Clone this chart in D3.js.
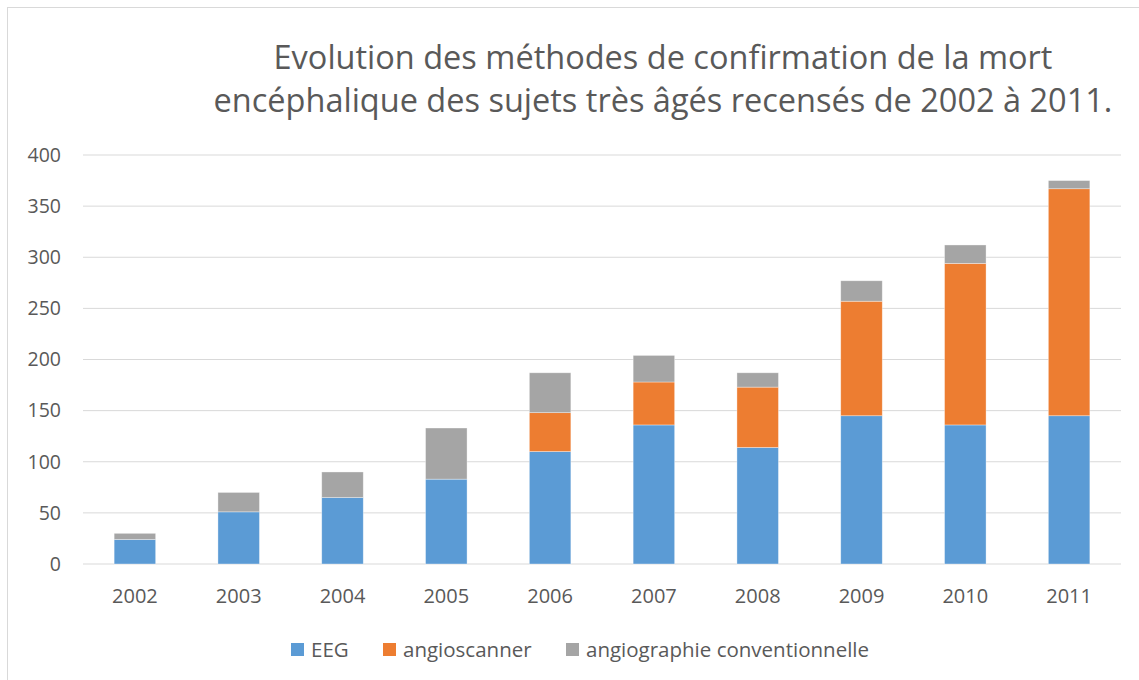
<!DOCTYPE html>
<html>
<head>
<meta charset="utf-8">
<script src="https://cdn.jsdelivr.net/npm/d3@7"></script>
<style>
  body { margin: 0; background: #fff; }
  text { font-family: "Open Sans", sans-serif; fill: #595959; }
</style>
</head>
<body>
<div id="chart"></div>
<script>
const years = ["2002", "2003", "2004", "2005", "2006", "2007", "2008", "2009", "2010", "2011"];
const eeg = [24, 51, 65, 83, 110, 136, 114, 145, 136, 145];
const angioscanner = [0, 0, 0, 0, 38, 42, 59, 112, 158, 222];
const angiographie = [6, 19, 25, 50, 39, 26, 14, 20, 18, 8];
const yTicks = [0, 50, 100, 150, 200, 250, 300, 350, 400];
const seriesNames = ["EEG", "angioscanner", "angiographie conventionnelle"];
const seriesColors = ["#5B9BD5", "#ED7D31", "#A5A5A5"];

const W = 1139, H = 680;
const margin = { top: 155, right: 18, bottom: 116, left: 83 };
const width = W - margin.left - margin.right;
const height = H - margin.top - margin.bottom;

const table = years.map((y, i) => ({
  year: y,
  "EEG": eeg[i],
  "angioscanner": angioscanner[i],
  "angiographie conventionnelle": angiographie[i]
}));

const svg = d3.select("#chart").append("svg")
  .attr("width", W)
  .attr("height", H);

// outer frame
svg.append("rect")
  .attr("x", 7.5).attr("y", 7.5)
  .attr("width", W + 10).attr("height", H + 10)
  .attr("fill", "none")
  .attr("stroke", "#D9D9D9");

// title
const title = svg.append("text")
  .attr("text-anchor", "middle")
  .style("font-size", "32.5px");
title.append("tspan").attr("x", 663).attr("y", 69)
  .text("Evolution des méthodes de confirmation de la mort");
title.append("tspan").attr("x", 663).attr("y", 112)
  .text("encéphalique des sujets très âgés recensés de 2002 à 2011.");

const g = svg.append("g")
  .attr("transform", `translate(${margin.left},${margin.top})`);

const x = d3.scaleBand()
  .domain(years)
  .range([0, width])
  .paddingInner(0.6)
  .paddingOuter(0.3);

const y = d3.scaleLinear()
  .domain([0, 400])
  .range([height, 0]);

const color = d3.scaleOrdinal()
  .domain(seriesNames)
  .range(seriesColors);

// gridlines
g.append("g")
  .selectAll("line")
  .data(yTicks)
  .enter().append("line")
  .attr("x1", 0).attr("x2", width)
  .attr("y1", d => y(d)).attr("y2", d => y(d))
  .attr("stroke", "#D9D9D9")
  .attr("stroke-width", 1);

const series = d3.stack().keys(seriesNames)(table);

g.selectAll(".series")
  .data(series)
  .enter().append("g")
  .attr("class", "series")
  .attr("fill", d => color(d.key))
  .selectAll("rect")
  .data(d => d)
  .enter().append("rect")
  .attr("x", d => x(d.data.year))
  .attr("y", d => y(d[1]))
  .attr("height", d => y(d[0]) - y(d[1]))
  .attr("width", x.bandwidth())
  .attr("stroke", "#fff")
  .attr("stroke-opacity", 0.5)
  .attr("stroke-width", 0.7);

// y axis
const yAxis = g.append("g")
  .call(d3.axisLeft(y).tickValues(yTicks).tickSize(0).tickPadding(22));
yAxis.select(".domain").remove();
yAxis.selectAll("text")
  .style("font-size", "19.5px")
  .style("font-family", "'Open Sans', sans-serif")
  .attr("fill", "#595959");

// x axis
const xAxis = g.append("g")
  .attr("transform", `translate(0,${height})`)
  .call(d3.axisBottom(x).tickSize(0).tickPadding(25));
xAxis.select(".domain").remove();
xAxis.selectAll("text")
  .style("font-size", "20px")
  .style("font-family", "'Open Sans', sans-serif")
  .attr("fill", "#595959");

// legend
const legendX = [291, 383, 566];
const legend = svg.selectAll(".legend")
  .data(seriesNames)
  .enter().append("g")
  .attr("class", "legend")
  .attr("transform", (d, i) => `translate(${legendX[i]},643)`);

legend.append("rect")
  .attr("width", 13)
  .attr("height", 13)
  .attr("fill", d => color(d));

legend.append("text")
  .attr("x", 20)
  .attr("y", 6.5)
  .attr("dy", ".35em")
  .style("font-size", "20.5px")
  .text(d => d);
</script>
</body>
</html>
